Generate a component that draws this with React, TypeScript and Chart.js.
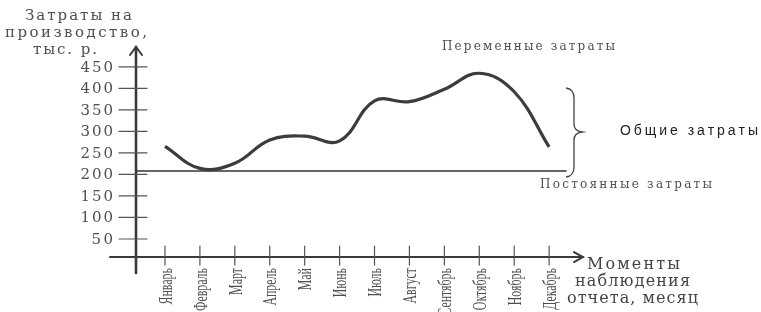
import React, { useEffect, useRef } from 'react';
import { Chart, registerables } from 'chart.js';

Chart.register(...registerables);

// ---- data ----
const months = ['Январь', 'Февраль', 'Март', 'Апрель', 'Май', 'Июнь', 'Июль', 'Август', 'Сентябрь', 'Октябрь', 'Ноябрь', 'Декабрь'];
const variableCosts = [265, 214, 226, 280, 289, 278, 371, 369, 398, 435, 392, 264];
const fixedCostLevel = 208;
const fixedLineEnd = 11.5;
const yTickValues = [50, 100, 150, 200, 250, 300, 350, 400, 450];
const xAxisAt = 8;

const X_MIN = -0.83;
const X_MAX = 11.97;
const Y_MIN = -29;
const Y_MAX = 496;

const SERIF = '"DejaVu Serif", "Liberation Serif", serif';
const NARROW_SERIF = '"Liberation Serif", "DejaVu Serif", serif';
const SANS = '"Liberation Sans", Arial, sans-serif';

function spacedText(ctx: CanvasRenderingContext2D, text: string, x: number, y: number, width: number, align: 'left' | 'center' | 'right') {
  const chars = [...text];
  const widths = chars.map((c) => ctx.measureText(c).width);
  const total = widths.reduce((a, b) => a + b, 0);
  const gap = chars.length > 1 ? (width - total) / (chars.length - 1) : 0;
  let start = align === 'center' ? x - width / 2 : align === 'right' ? x - width : x;
  ctx.textAlign = 'left';
  chars.forEach((c, i) => {
    ctx.fillText(c, start, y);
    start += widths[i] + gap;
  });
}

const decorPlugin = {
  id: 'decor',
  beforeDraw(chart: any) {
    const { ctx, width, height } = chart;
    ctx.save();
    ctx.fillStyle = '#ffffff';
    ctx.fillRect(0, 0, width, height);
    ctx.restore();
  },
  beforeDatasetsDraw(chart: any) {
    const { ctx, chartArea } = chart;
    const xs = chart.scales.x;
    const ys = chart.scales.y;
    const axisX = xs.getPixelForValue(X_MIN);
    const axisY = ys.getPixelForValue(xAxisAt);
    ctx.save();
    ctx.strokeStyle = '#3a3a3a';
    ctx.lineCap = 'round';
    // y axis
    ctx.lineWidth = 2.6;
    ctx.beginPath();
    ctx.moveTo(axisX, chartArea.top);
    ctx.lineTo(axisX, chartArea.bottom);
    ctx.stroke();
    ctx.lineWidth = 2;
    ctx.beginPath();
    ctx.moveTo(axisX - 6, chartArea.top + 8);
    ctx.lineTo(axisX, chartArea.top);
    ctx.lineTo(axisX + 6, chartArea.top + 8);
    ctx.stroke();
    // x axis
    ctx.lineWidth = 2;
    ctx.beginPath();
    ctx.moveTo(axisX - 26, axisY);
    ctx.lineTo(chartArea.right, axisY);
    ctx.stroke();
    ctx.beginPath();
    ctx.moveTo(chartArea.right - 9, axisY - 5);
    ctx.lineTo(chartArea.right, axisY);
    ctx.lineTo(chartArea.right - 9, axisY + 5);
    ctx.stroke();

    // y ticks
    ctx.strokeStyle = '#555';
    ctx.lineWidth = 1.2;
    ctx.fillStyle = '#4f4f4f';
    ctx.font = `15px ${SERIF}`;
    ctx.textBaseline = 'middle';
    yTickValues.forEach((v) => {
      const py = ys.getPixelForValue(v);
      ctx.beginPath();
      ctx.moveTo(axisX - 17, py);
      ctx.lineTo(axisX + 11, py);
      ctx.stroke();
      const s = String(v);
      spacedText(ctx, s, axisX - 23, py + 1, s.length * 10.8, 'right');
    });

    // x ticks + labels
    ctx.font = `18px ${NARROW_SERIF}`;
    months.forEach((m, i) => {
      const px = xs.getPixelForValue(i);
      ctx.beginPath();
      ctx.moveTo(px, axisY - 11);
      ctx.lineTo(px, axisY + 8);
      ctx.stroke();
      ctx.save();
      ctx.translate(px + 2, axisY + 11);
      ctx.rotate(-Math.PI / 2);
      ctx.scale(0.66, 1);
      ctx.textAlign = 'right';
      ctx.textBaseline = 'middle';
      ctx.fillText(m, 0, 0);
      ctx.restore();
    });
    ctx.restore();
  },
  afterDatasetsDraw(chart: any) {
    const { ctx } = chart;
    ctx.save();
    ctx.textBaseline = 'middle';
    ctx.fillStyle = '#4f4f4f';
    // title
    ctx.font = `15px ${SERIF}`;
    spacedText(ctx, 'Затраты на', 25, 16, 107, 'left');
    spacedText(ctx, 'производство,', 5, 33, 142, 'left');
    spacedText(ctx, 'тыс. р.', 33, 50, 64, 'left');
    // x axis title
    ctx.fillStyle = '#444';
    ctx.font = `16px ${SERIF}`;
    spacedText(ctx, 'Моменты', 587, 265, 93, 'left');
    spacedText(ctx, 'наблюдения', 575, 282, 115, 'left');
    spacedText(ctx, 'отчета, месяц', 567, 299, 131, 'left');
    // annotations
    ctx.fillStyle = '#4f4f4f';
    ctx.font = `12px ${SERIF}`;
    spacedText(ctx, 'Переменные затраты', 442, 47, 173, 'left');
    spacedText(ctx, 'Постоянные затраты', 540, 185, 172, 'left');
    ctx.fillStyle = '#222';
    ctx.font = `14px ${SANS}`;
    spacedText(ctx, 'Общие затраты', 620, 131, 138, 'left');
    // brace
    ctx.strokeStyle = '#444';
    ctx.lineWidth = 1.3;
    ctx.beginPath();
    ctx.moveTo(566, 88);
    ctx.quadraticCurveTo(574, 89, 574, 98);
    ctx.lineTo(574, 124);
    ctx.quadraticCurveTo(574, 131, 582, 132);
    ctx.quadraticCurveTo(574, 133, 574, 140);
    ctx.lineTo(574, 167);
    ctx.quadraticCurveTo(574, 176, 566, 177);
    ctx.stroke();
    ctx.restore();
  },
};

export default function App() {
  const ref = useRef<HTMLCanvasElement | null>(null);
  useEffect(() => {
    if (!ref.current) return;
    const chart = new Chart(ref.current, {
      type: 'line',
      data: {
        datasets: [
          {
            label: 'Переменные затраты',
            data: variableCosts.map((v, i) => ({ x: i, y: v })),
            borderColor: '#3c3c3c',
            borderWidth: 3.2,
            tension: 0.4,
            pointRadius: 0,
            fill: false,
            clip: false as any,
          },
          {
            label: 'Постоянные затраты',
            data: [
              { x: X_MIN, y: fixedCostLevel },
              { x: fixedLineEnd, y: fixedCostLevel },
            ],
            borderColor: '#333',
            borderWidth: 1.3,
            tension: 0,
            pointRadius: 0,
            fill: false,
          },
        ],
      },
      options: {
        responsive: false,
        animation: false,
        layout: { padding: { left: 136, right: 178, top: 47, bottom: 39 } },
        plugins: { legend: { display: false }, tooltip: { enabled: false } },
        scales: {
          x: { type: 'linear', min: X_MIN, max: X_MAX, display: false },
          y: { type: 'linear', min: Y_MIN, max: Y_MAX, display: false },
        },
      },
      plugins: [decorPlugin],
    });
    return () => chart.destroy();
  }, []);
  return (
    <div style={{ position: 'fixed', left: 0, top: 0, width: 761, height: 312, background: '#fff' }}>
      <canvas ref={ref} width={761} height={312} style={{ display: 'block', width: 761, height: 312 }} />
    </div>
  );
}
